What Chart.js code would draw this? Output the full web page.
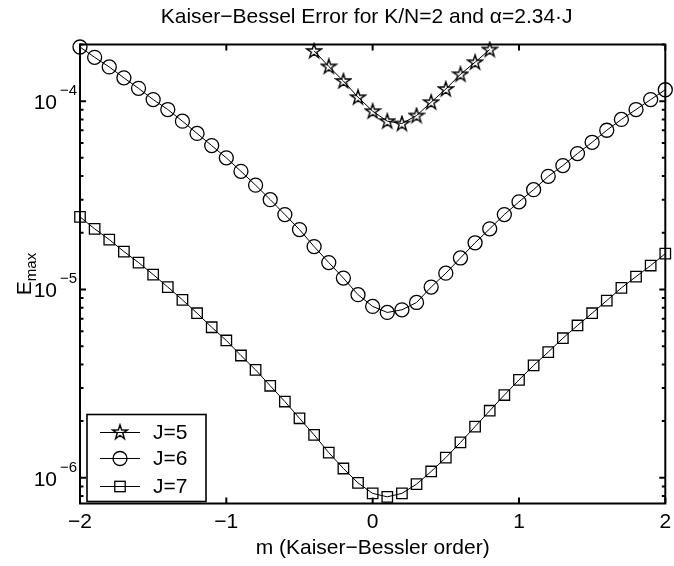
<!DOCTYPE html>
<html>
<head>
<meta charset="utf-8">
<script src="https://cdn.jsdelivr.net/npm/chart.js@4/dist/chart.umd.min.js"></script>
<style>
  body { margin: 0; background: #fff; }
  #wrap { width: 674px; height: 566px; }
</style>
</head>
<body>
<div id="wrap"><canvas id="myChart" width="674" height="566"></canvas></div>
<script>
const mValues = [-2, -1.9, -1.8, -1.7, -1.6, -1.5, -1.4, -1.3, -1.2, -1.1, -1, -0.9, -0.8, -0.7, -0.6, -0.5, -0.4, -0.3, -0.2, -0.1, 0,
  0.1, 0.2, 0.3, 0.4, 0.5, 0.6, 0.7, 0.8, 0.9, 1, 1.1, 1.2, 1.3, 1.4, 1.5, 1.6, 1.7, 1.8, 1.9, 2];

// J=5 only shows inside the axes between m=-0.4 and m=0.8
const errJ5 = [null, null, null, null, null, null, null, null, null, null, null, null, null, null, null, null,
  1.85e-4, 1.53e-4, 1.28e-4, 1.05e-4, 8.85e-5, 7.83e-5, 7.61e-5, 8.39e-5, 9.88e-5, 1.16e-4, 1.39e-4, 1.61e-4, 1.88e-4,
  null, null, null, null, null, null, null, null, null, null, null, null];

const errJ6 = [1.94e-4, 1.71e-4, 1.52e-4, 1.33e-4, 1.17e-4, 1.02e-4, 9.03e-5, 7.83e-5, 6.74e-5, 5.81e-5, 5.0e-5,
  4.24e-5, 3.58e-5, 3.0e-5, 2.5e-5, 2.08e-5, 1.69e-5, 1.39e-5, 1.15e-5, 9.38e-6, 8.13e-6,
  7.55e-6, 7.8e-6, 8.53e-6, 1.03e-5, 1.22e-5, 1.47e-5, 1.77e-5, 2.1e-5, 2.5e-5, 2.92e-5,
  3.39e-5, 3.99e-5, 4.55e-5, 5.27e-5, 6.05e-5, 7.01e-5, 8.0e-5, 9.03e-5, 1.02e-4, 1.15e-4];

const errJ7 = [2.43e-5, 2.1e-5, 1.84e-5, 1.59e-5, 1.39e-5, 1.2e-5, 1.03e-5, 8.81e-6, 7.48e-6, 6.3e-6, 5.36e-6,
  4.46e-6, 3.74e-6, 3.08e-6, 2.54e-6, 2.07e-6, 1.69e-6, 1.36e-6, 1.12e-6, 9.39e-7, 8.26e-7,
  7.92e-7, 8.26e-7, 9.25e-7, 1.08e-6, 1.28e-6, 1.54e-6, 1.87e-6, 2.27e-6, 2.75e-6, 3.31e-6,
  3.95e-6, 4.65e-6, 5.51e-6, 6.44e-6, 7.48e-6, 8.73e-6, 1.02e-5, 1.17e-5, 1.34e-5, 1.55e-5];

const seriesLabels = ["J=5", "J=6", "J=7"];
const xTicks = [-2, -1, 0, 1, 2];
const yTickExponents = [-6, -5, -4];
const yMin = 7.3e-7;
const yMax = 2.0e-4;

const FONT = "Liberation Sans, Arial, Helvetica, sans-serif";

function toPoints(values) {
  return mValues.map((m, i) => ({ x: m, y: values[i] }));
}

function makeStar() {
  const c = document.createElement("canvas");
  c.width = 18;
  c.height = 18;
  const ctx = c.getContext("2d");
  const outer = 7.6;
  const inner = outer * 0.382;
  ctx.beginPath();
  for (let i = 0; i < 10; i++) {
    const r = i % 2 === 0 ? outer : inner;
    const a = -Math.PI / 2 + (i * Math.PI) / 5;
    const px = 9 + r * Math.cos(a);
    const py = 9.4 + r * Math.sin(a);
    if (i === 0) ctx.moveTo(px, py);
    else ctx.lineTo(px, py);
  }
  ctx.closePath();
  ctx.lineWidth = 1.4;
  ctx.strokeStyle = "#000";
  ctx.stroke();
  return c;
}

const starImg = makeStar();

function minusSign(n) {
  return String(n).replace("-", "\u2212");
}

const axesPlugin = {
  id: "matlabAxes",
  afterDraw(chart) {
    const ctx = chart.ctx;
    const area = chart.chartArea;
    const xs = chart.scales.x;
    const ys = chart.scales.y;
    ctx.save();
    ctx.strokeStyle = "#000";
    ctx.fillStyle = "#000";

    // box
    ctx.lineWidth = 2;
    ctx.strokeRect(area.left, area.top, area.right - area.left, area.bottom - area.top);

    // x ticks, inward on bottom and top
    ctx.beginPath();
    xTicks.forEach((t) => {
      const px = xs.getPixelForValue(t);
      ctx.moveTo(px, area.bottom);
      ctx.lineTo(px, area.bottom - 6);
      ctx.moveTo(px, area.top);
      ctx.lineTo(px, area.top + 6);
    });
    ctx.stroke();

    // y ticks, major and minor, on left and right
    ctx.beginPath();
    for (let e = -7; e <= -4; e++) {
      for (let k = 1; k <= 9; k++) {
        const v = k * Math.pow(10, e);
        if (v < yMin || v > yMax) continue;
        const py = ys.getPixelForValue(v);
        const len = k === 1 ? 6 : 3.5;
        ctx.moveTo(area.left, py);
        ctx.lineTo(area.left + len, py);
        ctx.moveTo(area.right, py);
        ctx.lineTo(area.right - len, py);
      }
    }
    ctx.stroke();

    // x tick labels
    ctx.font = "21px " + FONT;
    ctx.textAlign = "center";
    ctx.textBaseline = "middle";
    xTicks.forEach((t) => {
      ctx.fillText(minusSign(t), xs.getPixelForValue(t), area.bottom + 19);
    });

    // y tick labels 10^n
    yTickExponents.forEach((e) => {
      const py = ys.getPixelForValue(Math.pow(10, e));
      ctx.textAlign = "right";
      ctx.textBaseline = "alphabetic";
      ctx.font = "21px " + FONT;
      ctx.fillText("10", area.left - 23, py + 8);
      ctx.font = "15px " + FONT;
      ctx.fillText(minusSign(e), area.left - 3, py - 6);
    });

    // axis titles
    ctx.font = "21px " + FONT;
    ctx.textAlign = "center";
    ctx.textBaseline = "middle";
    ctx.fillText("m (Kaiser\u2212Bessler order)", (area.left + area.right) / 2, area.bottom + 45);
    ctx.fillText("Kaiser\u2212Bessel Error for K/N=2 and \u03b1=2.34\u00b7J", (area.left + area.right) / 2 - 6, 17);

    ctx.save();
    ctx.translate(26, (area.top + area.bottom) / 2);
    ctx.rotate(-Math.PI / 2);
    ctx.textAlign = "left";
    ctx.textBaseline = "alphabetic";
    ctx.font = "21px " + FONT;
    const eW = ctx.measureText("E").width;
    ctx.font = "15px " + FONT;
    const subW = ctx.measureText("max").width;
    const start = -(eW + subW) / 2;
    ctx.font = "21px " + FONT;
    ctx.fillText("E", start, 5);
    ctx.font = "15px " + FONT;
    ctx.fillText("max", start + eW, 10);
    ctx.restore();

    // legend
    const lx = area.left + 7;
    const ly = area.bottom - 89;
    ctx.fillStyle = "#fff";
    ctx.fillRect(lx, ly, 119, 87);
    ctx.lineWidth = 1.6;
    ctx.strokeRect(lx, ly, 119, 87);
    const rowY = [ly + 18, ly + 44, ly + 72];
    ctx.lineWidth = 1;
    seriesLabels.forEach((label, i) => {
      const y = rowY[i];
      ctx.beginPath();
      ctx.moveTo(lx + 13, y);
      ctx.lineTo(lx + 53, y);
      ctx.stroke();
      const cx = lx + 33;
      ctx.lineWidth = 1.3;
      if (i === 0) {
        ctx.drawImage(starImg, cx - 9, y - 9.4);
      } else if (i === 1) {
        ctx.beginPath();
        ctx.arc(cx, y, 7, 0, Math.PI * 2);
        ctx.stroke();
      } else {
        ctx.strokeRect(cx - 5.2, y - 5.2, 10.4, 10.4);
      }
      ctx.lineWidth = 1;
      ctx.fillStyle = "#000";
      ctx.font = "21px " + FONT;
      ctx.textAlign = "left";
      ctx.textBaseline = "middle";
      ctx.fillText(label, lx + 66, y + 1);
    });
    ctx.restore();
  },
};

const baseSet = {
  borderColor: "#000",
  borderWidth: 1,
  pointBorderColor: "#000",
  pointBackgroundColor: "rgba(0,0,0,0)",
  pointBorderWidth: 1.3,
  tension: 0,
  clip: false,
  spanGaps: false,
};

const data = {
  datasets: [
    Object.assign({}, baseSet, { label: seriesLabels[0], data: toPoints(errJ5), pointStyle: starImg, pointRadius: 7 }),
    Object.assign({}, baseSet, { label: seriesLabels[1], data: toPoints(errJ6), pointStyle: "circle", pointRadius: 7 }),
    Object.assign({}, baseSet, { label: seriesLabels[2], data: toPoints(errJ7), pointStyle: "rect", pointRadius: 7.4 }),
  ],
};

const config = {
  type: "line",
  data: data,
  options: {
    responsive: false,
    animation: false,
    events: [],
    layout: { padding: { left: 80, right: 6, top: 44.5, bottom: 62.5 } },
    plugins: { legend: { display: false }, title: { display: false }, tooltip: { enabled: false } },
    scales: {
      x: { type: "linear", min: -2, max: 2, display: false },
      y: { type: "logarithmic", min: yMin, max: yMax, display: false },
    },
  },
  plugins: [axesPlugin],
};

new Chart(document.getElementById("myChart"), config);
</script>
</body>
</html>
